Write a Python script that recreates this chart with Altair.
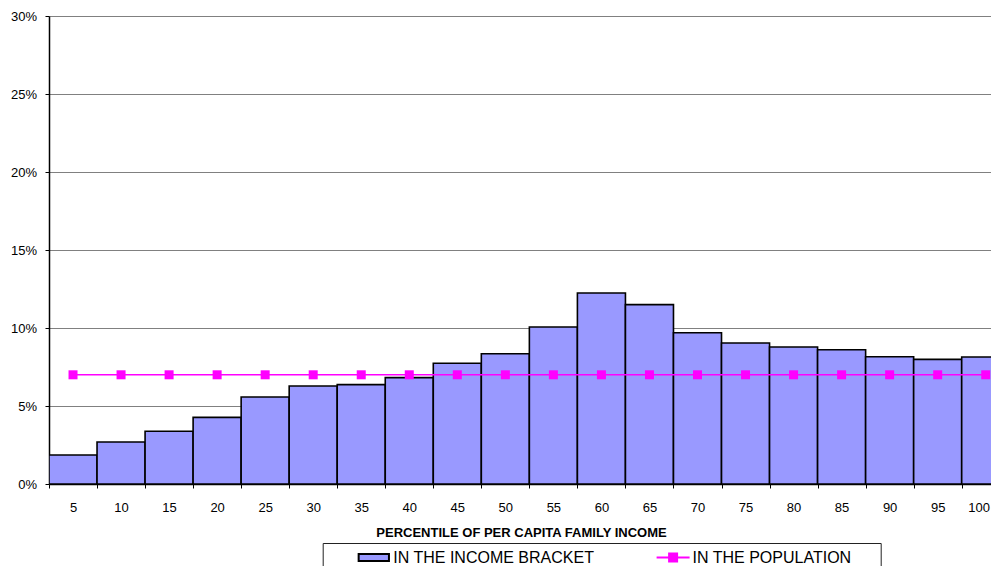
import altair as alt
import pandas as pd

# ---- data ----
percentiles = [5, 10, 15, 20, 25, 30, 35, 40, 45, 50,
               55, 60, 65, 70, 75, 80, 85, 90, 95, 100]
in_bracket_pct = [1.86, 2.69, 3.38, 4.27, 5.58, 6.28, 6.37, 6.82, 7.74, 8.35,
                  10.06, 12.24, 11.50, 9.70, 9.04, 8.78, 8.61, 8.16, 7.99, 8.14]
in_population_pct = [7.0, 7.0, 7.0, 7.0, 7.0, 7.0, 7.0, 7.0, 7.0, 7.0,
                     7.0, 7.0, 7.0, 7.0, 7.0, 7.0, 7.0, 7.0, 7.0, 7.0]
bar_series = "IN THE INCOME BRACKET"
line_series = "IN THE POPULATION"
bar_color = "#9999ff"
line_color = "#ff00ff"
y_ticks = [0, 0.05, 0.10, 0.15, 0.20, 0.25, 0.30]
x_tick_starts = [0, 5, 10, 15, 20, 25, 30, 35, 40, 45,
                 50, 55, 60, 65, 70, 75, 80, 85, 90, 95]
x_title = "PERCENTILE OF PER CAPITA FAMILY INCOME"

df = pd.DataFrame({
    "pct": percentiles,
    "bracket": [v / 100 for v in in_bracket_pct],
    "pop": [v / 100 for v in in_population_pct],
})
df["start"] = df["pct"] - 5
df["mid"] = df["pct"] - 2.5
df["bar_series"] = bar_series
df["line_series"] = line_series

FONT = "Liberation Sans"

xscale = alt.Scale(domain=[0, 98.05], nice=False, zero=False)
yscale = alt.Scale(domain=[0, 0.30], nice=False)

# a little trailing room so the frame reaches the reference's right edge
PAD_TEXT = "\u00a0" * 5 + "\u200b"

common_legend = dict(
    title=None,
    orient="none",
    legendX=273.7,
    legendY=527,
    padding=6.5,
    symbolSize=100,
    symbolStrokeWidth=2,
    labelOffset=11.5,
    labelFont=FONT,
    labelFontSize=16,
    labelColor="black",
    labelLimit=1000,
    symbolOpacity=1,
)

# first entry: no frame, drawn on top
legend_bar = alt.Legend(
    symbolOffset=36.6,
    symbolType="M-3.03,-0.7H3.03V0.7H-3.03Z",
    symbolStrokeColor="black",
    symbolFillColor=bar_color,
    zindex=2,
    **common_legend,
)

# second entry: carries the common frame
legend_line = alt.Legend(
    symbolOffset=335.9,
    symbolType="M-3.3,0H3.3M-0.8,-0.8H0.8V0.8H-0.8Z",
    symbolFillColor=line_color,
    symbolStrokeColor=line_color,
    labelExpr="datum.label + '" + PAD_TEXT + "'",
    strokeColor="#222222",
    fillColor="white",
    zindex=1,
    **common_legend,
)

x_axis = alt.Axis(
    values=x_tick_starts,
    labelExpr="datum.value + 5",
    labelOffset=alt.expr("datum.value == 95 ? 17 : 24"),
    labelFlush=False,
    labelOverlap=False,
    labelBound=False,
    labelFontSize=13,
    labelPadding=13,
    tickSize=4,
    tickColor="black",
    domainColor="black",
    domainWidth=1.5,
    grid=False,
    title=x_title,
    titleFontSize=13,
    titleFontWeight="bold",
    titleX=472,
    titleY=52,
    titleAlign="center",
    titleBaseline="alphabetic",
    titleColor="black",
)

y_axis = alt.Axis(
    values=y_ticks,
    format=".0%",
    labelFontSize=13,
    labelPadding=8.5,
    tickSize=4,
    tickColor="black",
    domainColor="black",
    domainWidth=1.5,
    grid=True,
    gridColor="#808080",
    gridWidth=1,
    title=None,
)

bars = alt.Chart(df).mark_bar(
    stroke="black", strokeWidth=1.6, clip=True, opacity=1
).encode(
    x=alt.X("start:Q", scale=xscale, axis=x_axis),
    x2="pct:Q",
    y=alt.Y("bracket:Q", scale=yscale, axis=y_axis),
    y2=alt.datum(0),
    color=alt.Color(
        "bar_series:N",
        scale=alt.Scale(domain=[bar_series], range=[bar_color]),
        legend=legend_bar,
    ),
)

line = alt.Chart(df).mark_line(strokeWidth=1.5, clip=True).encode(
    x=alt.X("mid:Q", scale=xscale),
    y=alt.Y("pop:Q", scale=yscale),
    stroke=alt.Stroke(
        "line_series:N",
        scale=alt.Scale(domain=[line_series], range=[line_color]),
        legend=legend_line,
    ),
)

points = alt.Chart(df).mark_point(
    shape="square", filled=True, size=81, opacity=1, color=line_color, clip=True
).encode(
    x=alt.X("mid:Q", scale=xscale),
    y=alt.Y("pop:Q", scale=yscale),
)

chart = alt.layer(bars, line, points).properties(
    width=942,
    height=468,
    padding={"left": 41, "top": 8, "right": 0, "bottom": 82},
    autosize=alt.AutoSizeParams(type="none"),
    background="white",
).resolve_legend(color="independent", stroke="independent").configure_view(
    stroke=None
).configure_axis(
    labelFont=FONT, titleFont=FONT, labelColor="black"
)

chart.save("out.html", embed_options={"renderer": "svg", "actions": False})
